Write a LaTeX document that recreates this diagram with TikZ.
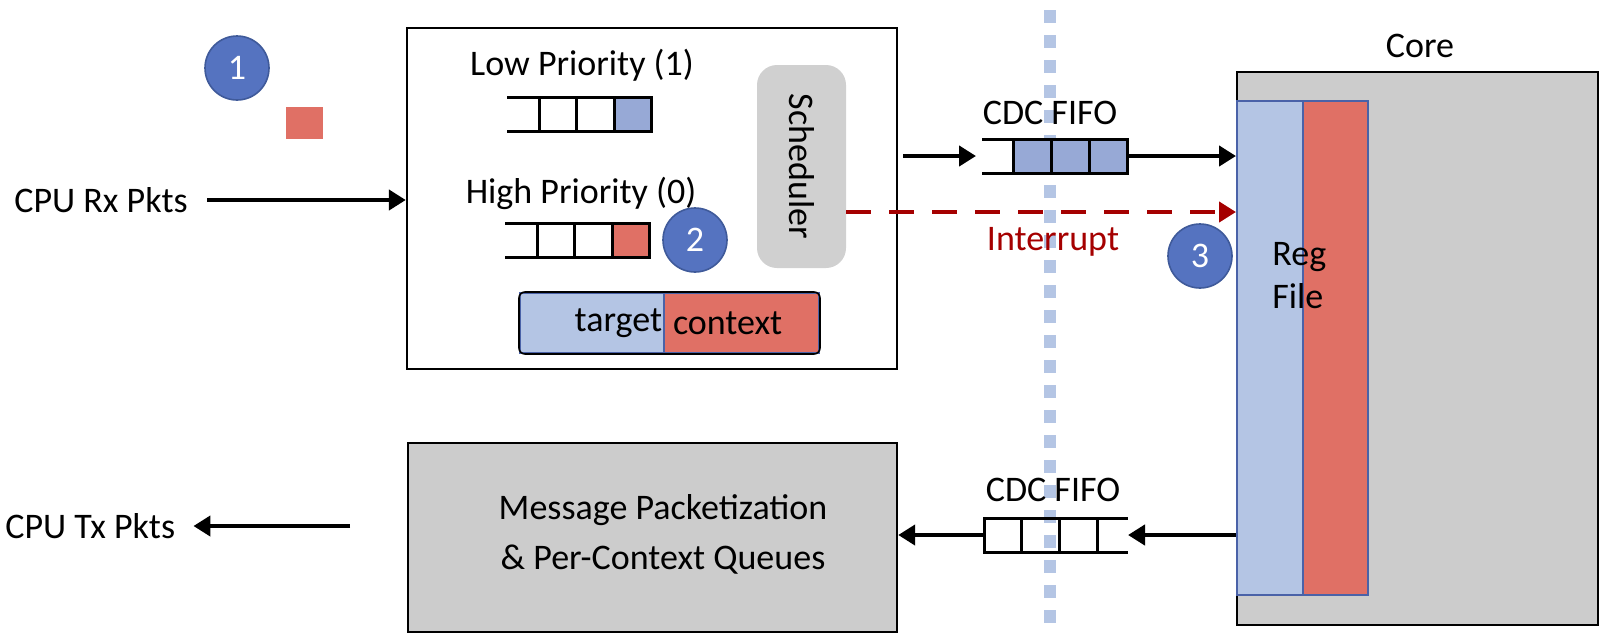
\documentclass[tikz,border=0pt]{standalone}
\usepackage{fontspec}
\setmainfont{Carlito}
\usetikzlibrary{positioning,arrows.meta}

\definecolor{badgeblue}{RGB}{85,115,192}
\definecolor{badgeedge}{RGB}{63,90,154}
\definecolor{pktred}{RGB}{224,112,101}
\definecolor{pktblue}{RGB}{151,169,214}
\definecolor{regblue}{RGB}{180,197,228}
\definecolor{regedge}{RGB}{74,98,168}
\definecolor{coregray}{RGB}{204,204,204}
\definecolor{schedgray}{RGB}{208,208,208}
\definecolor{irqred}{RGB}{165,0,0}

\begin{document}
\begin{tikzpicture}[x=0.5pt, y=-0.5pt, node distance=0pt,
    every node/.style={font=\fontsize{18}{21.5}\selectfont},
    box/.style={draw, line width=1.2pt, inner sep=0pt},
    cell/.style={draw, line width=1.5pt, minimum width=18.8pt, minimum height=17pt, inner sep=0pt, outer sep=0pt},
    opencell/.style={minimum width=16pt, minimum height=17pt, inner sep=0pt, outer sep=0pt},
    badge/.style={circle, fill=badgeblue, draw=badgeedge, line width=0.8pt, minimum size=32pt, inner sep=0pt, text=white},
    wire/.style={line width=2.4pt, -{Triangle[length=8.5pt,width=10pt]}},
    irq/.style={line width=2.4pt, color=irqred, dash pattern=on 12.5pt off 9pt, -{Triangle[length=8.5pt,width=10pt]}},
    dotline/.style={line width=6pt, color=regblue, dash pattern=on 6.5pt off 6pt},
  ]
  \useasboundingbox (0,0) rectangle (1607,639);

  % clock domain border
  \draw[dotline] (1050,10) -- (1050,625);

  % rx side
  \node[badge] (b1) at (237,68) {1};
  \node[fill=pktred, minimum width=18.5pt, minimum height=16pt, inner sep=0pt] (pkt) at (304.5,123) {};
  \node[anchor=west, inner sep=0pt] (rx) at (14,200) {CPU Rx Pkts};

  % priority queues and scheduler
  \node[box, minimum width=245pt, minimum height=170.5pt] (inbox) at (652,198.5) {};
  \node (lowlbl) at (582,65) {Low Priority (1)};
  \node[opencell] (lq0) at (523,114) {};
  \node[cell, right=of lq0] (lq1) {};
  \node[cell, right=of lq1] (lq2) {};
  \node[cell, fill=pktblue, right=of lq2] (lq3) {};
  \draw[line width=1.5pt] (lq0.north west) -- (lq0.north east) (lq0.south west) -- (lq0.south east);

  \node (highlbl) at (581,193) {High Priority (0)};
  \node[opencell] (hq0) at (521,240.5) {};
  \node[cell, right=of hq0] (hq1) {};
  \node[cell, right=of hq1] (hq2) {};
  \node[cell, fill=pktred, right=of hq2] (hq3) {};
  \draw[line width=1.5pt] (hq0.north west) -- (hq0.north east) (hq0.south west) -- (hq0.south east);
  \node[badge] (b2) at (695,240) {2};

  \node[fill=schedgray, rounded corners=10pt, rotate=-90, minimum width=101.5pt, minimum height=44.5pt] (sched) at (801.5,166.5) {Scheduler};

  \node[fill=regblue, draw=regedge, line width=1pt, minimum width=72pt, minimum height=30pt, inner xsep=1pt, text width=70pt, align=right] (tgt) at (592,323) {target};
  \node[fill=pktred, draw=regedge, line width=1pt, minimum width=77.5pt, minimum height=30pt, inner xsep=4.5pt, text width=68.5pt, align=left] (ctx) at (741.5,323) {context};
  \draw[line width=0.8pt, rounded corners=3pt] (tgt.north west) rectangle (ctx.south east);

  % clock domain crossing to the core
  \node (fifolbl) at (1050,113) {CDC FIFO};
  \node[opencell, minimum width=15.5pt] (fa0) at (997.5,156) {};
  \node[cell, fill=pktblue, minimum width=19pt, right=of fa0] (fa1) {};
  \node[cell, fill=pktblue, minimum width=19pt, right=of fa1] (fa2) {};
  \node[cell, fill=pktblue, minimum width=19pt, right=of fa2] (fa3) {};
  \draw[line width=1.5pt] (fa0.north west) -- (fa0.north east) (fa0.south west) -- (fa0.south east);

  % core
  \node (corelbl) at (1420,46) {Core};
  \node[draw, fill=coregray, line width=1.2pt, minimum width=180.5pt, minimum height=276.5pt] (core) at (1417.5,348.5) {};
  \node[fill=regblue, draw=regedge, line width=1pt, minimum width=33pt, minimum height=247pt] (rega) at (1270,348) {};
  \node[fill=pktred, draw=regedge, line width=1pt, minimum width=32.5pt, minimum height=247pt] (regb) at (1335.5,348) {};
  \node[anchor=west, align=left, inner sep=0pt] (reglbl) at (1272,275.5) {Reg\\File};

  \coordinate (irqout) at (846,212);
  \draw[wire, shorten <=2.5pt, shorten >=3pt] (inbox.east |- fa0) -- (fa0.west);
  \draw[wire] (fa3.east) -- (rega.west |- fa3);
  \draw[irq] (irqout) -- (irqout -| rega.west);
  \node[text=irqred] (irqlbl) at (1053,242) {Interrupt};
  \node[badge] (b3) at (1200,256) {3};

  % tx side
  \node[draw, fill=coregray, line width=1.2pt, minimum width=244.5pt, minimum height=94.5pt] (msg) at (652.5,537.5) {};
  \node[align=center, font=\fontsize{18}{25}\selectfont] (msglbl) at (663,534) {Message Packetization\\\& Per-Context Queues};
  \node (fifolbl2) at (1053,490) {CDC FIFO};
  \node[opencell, minimum width=15.5pt] (fb3) at (1112.5,535) {};
  \node[cell, left=of fb3] (fb2) {};
  \node[cell, left=of fb2] (fb1) {};
  \node[cell, left=of fb1] (fb0) {};
  \draw[line width=1.5pt] (fb3.north west) -- (fb3.north east) (fb3.south west) -- (fb3.south east);

  \node[anchor=west, inner sep=0pt] (tx) at (5,526) {CPU Tx Pkts};
  \coordinate (txin) at (350,526);

  \draw[wire, shorten <=9.5pt] (rx) -- (inbox.west |- rx);
  \draw[wire] (rega.west |- fb3) -- (fb3.east);
  \draw[wire] (fb0.west) -- (msg.east |- fb0);
  \draw[wire, shorten >=9pt] (txin) -- (tx);
\end{tikzpicture}
\end{document}
